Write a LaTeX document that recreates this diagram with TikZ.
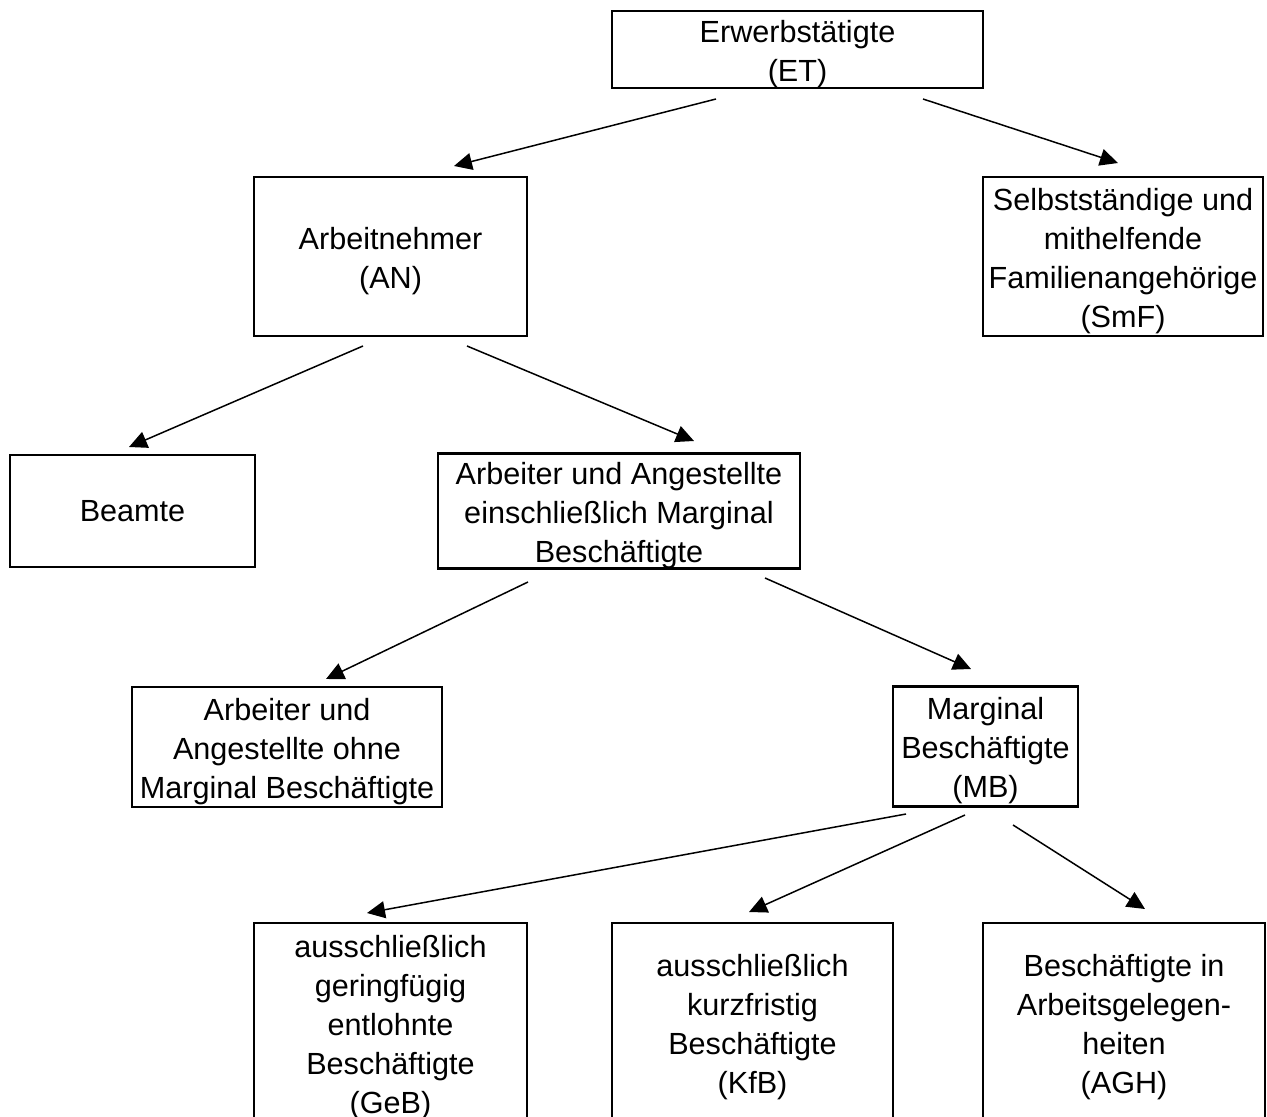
\documentclass[tikz,border=0pt]{standalone}
\usepackage{fontspec}
\setmainfont{Liberation Sans}
\usetikzlibrary{arrows.meta}

\newcommand{\hoch}{\rule{0pt}{15.5pt}}

\tikzset{
    kasten/.style={draw, line width=1.2pt, inner sep=0pt, align=center,
        font=\fontsize{15.3}{19.5}\selectfont},
    pfeil/.style={line width=0.75pt, -{Triangle[length=9pt,width=8.5pt]}}
}

\begin{document}
\begin{tikzpicture}[x=0.5pt, y=-0.5pt]

\useasboundingbox (0,0) rectangle (1267,1117);
\clip (0,0) rectangle (1267,1117);

\node[kasten, minimum width=185.5pt, minimum height=38.5pt] (ET) at (797.5,49.5)
    {\hoch Erwerbstätigte\\(ET)};

\node[kasten, minimum width=136.5pt, minimum height=79.5pt] (AN) at (390.5,256.5)
    {\hoch Arbeitnehmer\\(AN)};
\node[kasten, minimum width=140pt, minimum height=79.5pt] (SmF) at (1123,256.5)
    {\hoch Selbstständige und\\mithelfende\\Familienangehörige\\(SmF)};

\node[kasten, minimum width=122.5pt, minimum height=56pt] (BE) at (132.5,511)
    {Beamte};
\node[kasten, minimum width=181pt, minimum height=56pt] (AuA) at (619,511)
    {\hoch Arbeiter und Angestellte\\einschließlich Marginal\\Beschäftigte};

\node[kasten, minimum width=155pt, minimum height=60pt] (AoM) at (287,747)
    {\hoch Arbeiter und\\Angestellte ohne\\Marginal Beschäftigte};
\node[kasten, minimum width=92.5pt, minimum height=60pt] (MB) at (985.5,746.5)
    {\hoch Marginal\\Beschäftigte\\(MB)};

\node[kasten, minimum width=136.5pt, minimum height=100pt] (GeB) at (390.5,1023)
    {\hoch ausschließlich\\geringfügig\\entlohnte\\Beschäftigte\\(GeB)};
\node[kasten, minimum width=140.5pt, minimum height=100pt] (KfB) at (752.5,1023)
    {\hoch ausschließlich\\kurzfristig\\Beschäftigte\\(KfB)};
\node[kasten, minimum width=141pt, minimum height=100pt] (AGH) at (1124,1023)
    {\hoch Beschäftigte in\\Arbeitsgelegen-\\heiten\\(AGH)};

% Pfeilenden
\coordinate (ET-l) at (716,99);
\coordinate (ET-r) at (923,99);
\coordinate (AN-t) at (454,166);
\coordinate (SmF-t) at (1118,163);
\coordinate (AN-l) at (363,346);
\coordinate (AN-r) at (467,346);
\coordinate (BE-t) at (129,447);
\coordinate (AuA-t) at (694,441);
\coordinate (AuA-l) at (528,582);
\coordinate (AuA-r) at (765,578);
\coordinate (AoM-t) at (326,679);
\coordinate (MB-t) at (971,669);
\coordinate (MB-l) at (906,814);
\coordinate (MB-m) at (965,815);
\coordinate (MB-r) at (1013,825);
\coordinate (GeB-t) at (367,913);
\coordinate (KfB-t) at (749,912);
\coordinate (AGH-t) at (1145,909);

\draw[pfeil] (ET-l)--(AN-t);
\draw[pfeil] (ET-r)--(SmF-t);

\draw[pfeil] (AN-l)--(BE-t);
\draw[pfeil] (AN-r)--(AuA-t);

\draw[pfeil] (AuA-l)--(AoM-t);
\draw[pfeil] (AuA-r)--(MB-t);

\draw[pfeil] (MB-l)--(GeB-t);
\draw[pfeil] (MB-m)--(KfB-t);
\draw[pfeil] (MB-r)--(AGH-t);

\end{tikzpicture}
\end{document}
